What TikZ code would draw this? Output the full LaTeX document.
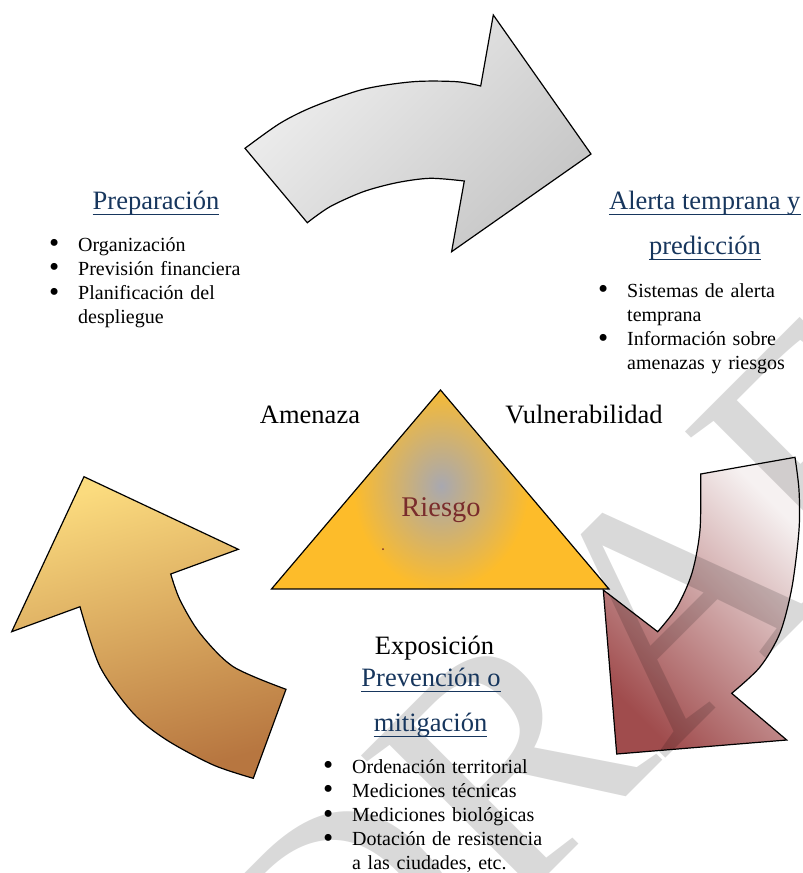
\documentclass[tikz,border=0pt]{standalone}
\usepackage{fontspec}
\setmainfont{Liberation Serif}
\usepackage{graphicx}
\usepackage{tikz}

\definecolor{navy}{HTML}{17365D}
\definecolor{riskred}{HTML}{7A2C2C}
\definecolor{greyL}{HTML}{F0F0F0}
\definecolor{greyD}{HTML}{C6C6C6}
\definecolor{yelL}{HTML}{FBDB7E}
\definecolor{yelD}{HTML}{B77640}
\definecolor{redL}{HTML}{F6F1F1}
\definecolor{redD}{HTML}{A04C4D}
\definecolor{gold}{HTML}{FDBC2A}
\definecolor{haze}{HTML}{A8A8B0}

\newcommand{\itembul}{\makebox[29pt][l]{\raisebox{-1.6pt}{\scalebox{1.45}{\textbullet}}}}
\newcommand{\itemcont}{\hspace*{29pt}}

\begin{document}
\begin{tikzpicture}[x=1pt,y=-1pt]
  \tikzstyle{outline} = [draw=black, line width=1.2pt, line join=miter]
  \tikzstyle{head} = [inner sep=0pt, anchor=base, text=navy, font=\fontsize{26.5}{32}\selectfont]
  \tikzstyle{word} = [inner sep=0pt, anchor=base, font=\fontsize{26.5}{32}\selectfont]
  \tikzstyle{bullets} = [inner sep=0pt, anchor=base west, text width=260pt, align=left, font=\fontsize{20}{24.2}\selectfont]
  \tikzstyle{uline} = [draw=navy, line width=1.6pt]
  \tikzstyle{watermark} = [inner sep=0pt, rotate=45, text=black, text opacity=0.15, font=\fontsize{330}{330}\selectfont]
  \useasboundingbox (0,0) rectangle (803,873);

  % cycle arrows
  \shadedraw[outline, top color=greyL, bottom color=greyD, shading angle=45]
    (245,148.3) -- plot[smooth] coordinates {(245,148.3) (280,123.3) (313.3,106.7) (363.3,89.3) (413.3,81.7) (456.7,81.7) (480.7,86)}
    -- (493.3,15) -- (591,154) -- (451.6,251.7) -- (464.3,181)
    -- plot[smooth] coordinates {(464.3,181) (430,178.3) (396.7,182.7) (363.3,191.7) (330,206.7) (307.3,222.7)}
    -- cycle;
  \shadedraw[outline, top color=redL, bottom color=redD, shading angle=-45]
    (700.7,474) -- (795,457.3)
    -- plot[smooth] coordinates {(795,457.3) (799,490) (799,530) (792,587) (780,633) (760,667) (731.7,693.3)}
    -- (786.7,740) -- (616.7,754) -- (603.3,590) -- (657.7,631.7)
    -- plot[smooth] coordinates {(657.7,631.7) (677,607) (692,573) (700,530) (700.7,474)}
    -- cycle;
  \shadedraw[outline, top color=yelL, bottom color=yelD, shading angle=15]
    (84,476.7) -- (238.3,549.3) -- (170.7,574)
    -- plot[smooth] coordinates {(170.7,574) (180,600) (200,633.3) (233.3,666.7) (286,689.3)}
    -- (253.3,778.3)
    -- plot[smooth] coordinates {(253.3,778.3) (213.3,765) (166.7,740) (133.3,713.3) (100,666.7) (80,606.7)}
    -- (11.7,631.7) -- cycle;

  % risk triangle
  \begin{scope}
    \clip (440.5,390) -- (609,589) -- (271.5,589) -- cycle;
    \fill[gold] (271.5,390) rectangle (609,589);
    \shade[inner color=haze, outer color=gold] (441,486) ellipse (88pt and 104pt);
  \end{scope}
  \draw[outline] (440.5,390) -- (609,589) -- (271.5,589) -- cycle;
  \fill[riskred] (383,549) circle (1pt);

  \node[watermark] (draft) at (645,625) {DRAFT};

  % triangle labels
  \node[word] (amenaza) at (310,423) {Amenaza};
  \node[word] (vulner) at (584,423) {Vulnerabilidad};
  \node[word, text=riskred, font=\fontsize{28.5}{32}\selectfont] (riesgo) at (441,516.5) {Riesgo};
  \node[word] (expo) at (434.5,654) {Exposición};

  % phase headings
  \node[head] (prep) at (156,209.5) {Preparación};
  \node[head] (alerta) at (704.8,209.5) {Alerta temprana y};
  \node[head] (pred) at (705,254.5) {predicción};
  \node[head] (prev) at (431,686.5) {Prevención o};
  \node[head] (miti) at (430.6,731.5) {mitigación};
  \foreach \h in {prep, alerta, pred, prev, miti}
    \draw[uline] ([yshift=-4.8pt]\h.base west) -- ([yshift=-4.8pt]\h.base east);

  % bullet lists
  \node[bullets] (prep-list) at (49,251) {\itembul Organización\\ \itembul Previsión financiera\\ \itembul Planificación del\\ \itemcont despliegue};
  \node[bullets] (alerta-list) at (598,297) {\itembul Sistemas de alerta\\ \itemcont temprana\\ \itembul Información sobre\\ \itemcont amenazas y riesgos};
  \node[bullets] (prev-list) at (323,773) {\itembul Ordenación territorial\\ \itembul Mediciones técnicas\\ \itembul Mediciones biológicas\\ \itembul Dotación de resistencia\\ \itemcont a las ciudades, etc.};
\end{tikzpicture}
\end{document}
